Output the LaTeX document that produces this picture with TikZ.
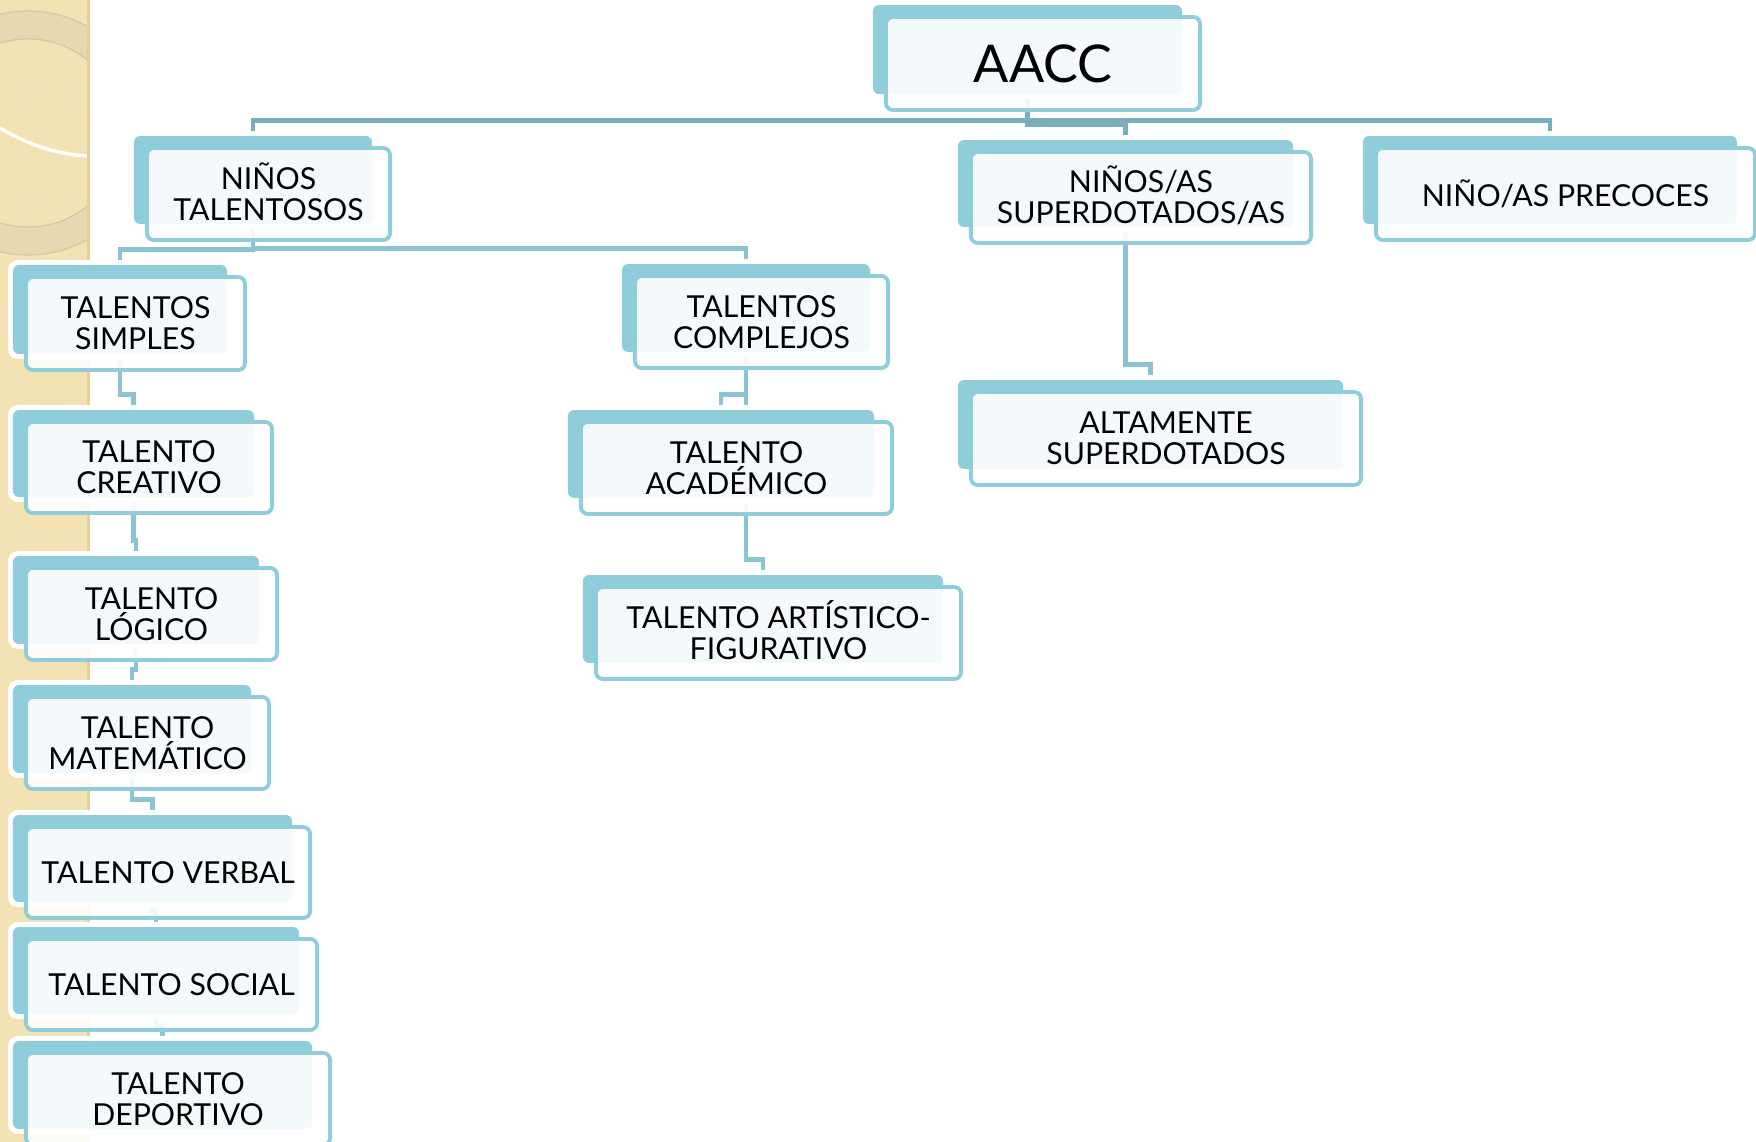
\documentclass[tikz,border=0pt]{standalone}
\usepackage{fontspec}
\setmainfont{Lato}
\usetikzlibrary{calc, patterns}
\definecolor{boxblue}{HTML}{8FCDDB}
\definecolor{linkblue}{HTML}{8AC3D1}
\definecolor{topblue}{HTML}{7AADBD}
\definecolor{beige}{HTML}{F4E2AE}
\definecolor{beigedark}{HTML}{E3CF98}
\definecolor{ringgrey}{HTML}{D9CDAE}
\pgfdeclarepatternformonly{beigetiles}{\pgfqpoint{0pt}{0pt}}{\pgfqpoint{1.9pt}{1.9pt}}{\pgfqpoint{1.9pt}{1.9pt}}{%
  \pgfpathrectangle{\pgfqpoint{0.4pt}{0.4pt}}{\pgfqpoint{1.1pt}{1.1pt}}\pgfusepath{fill}}
\tikzstyle{frontbox} = [rectangle, rounded corners=0.07cm, inner sep=0pt, align=center, text centered, draw=boxblue, line width=1.1pt, fill=white, fill opacity=0.9, text opacity=1, font=\fontsize{8.6}{8.8}\selectfont]
\tikzstyle{link} = [draw=linkblue, line width=1.4pt]
\tikzstyle{toplink} = [draw=topblue, line width=1.4pt]
\newcommand{\capline}[1]{\vphantom{T}\smash{#1}}

\pgfdeclarelayer{strip}
\pgfdeclarelayer{links}
\pgfdeclarelayer{backs}
\pgfsetlayers{strip,links,backs,main}

\begin{document}
\begin{tikzpicture}[x=0.01cm, y=-0.01cm]
\useasboundingbox (0,0) rectangle (1756,1142);
% side strip
\begin{pgfonlayer}{strip}
  \fill[beige] (0,0) rectangle (90,1142);
  \fill[pattern=beigetiles, pattern color=beigedark!60] (0,0) rectangle (90,1142);
  \begin{scope}
    \clip (0,0) rectangle (90,1142);
    \fill[ringgrey, opacity=0.45, even odd rule] (28,133) circle [radius=1.22cm] (28,133) circle [radius=0.94cm];
    \draw[ringgrey!80!black, opacity=0.4, line width=0.3pt] (28,133) circle [radius=1.22cm] (28,133) circle [radius=0.94cm];
    \draw[white, line width=1pt] (0,128) .. controls (30,146) and (60,155) .. (90,156);
  \end{scope}
  \fill[beigedark] (87,0) rectangle (90,1142);
\end{pgfonlayer}

\node (aacc) [frontbox, minimum width=3.14cm, minimum height=0.93cm, font=\fontsize{14.8}{15}\selectfont] at (1043,63.5) {AACC};
\node (ninos) [frontbox, minimum width=2.43cm, minimum height=0.92cm] at (268.5,194) {\capline{NIÑOS}\\TALENTOSOS};
\node (superd) [frontbox, minimum width=3.40cm, minimum height=0.91cm] at (1141,197.5) {\capline{NIÑOS/AS}\\SUPERDOTADOS/AS};
\node (precoces) [frontbox, minimum width=3.79cm, minimum height=0.92cm] at (1565.5,194) {NIÑO/AS PRECOCES};
\node (simples) [frontbox, minimum width=2.19cm, minimum height=0.93cm] at (135.5,323.5) {TALENTOS\\SIMPLES};
\node (complejos) [frontbox, minimum width=2.53cm, minimum height=0.92cm] at (761.5,322) {TALENTOS\\COMPLEJOS};
\node (altamente) [frontbox, minimum width=3.90cm, minimum height=0.93cm] at (1166,438.5) {ALTAMENTE\\SUPERDOTADOS};
\node (creativo) [frontbox, minimum width=2.46cm, minimum height=0.91cm] at (149,467.5) {TALENTO\\CREATIVO};
\node (academico) [frontbox, minimum width=3.11cm, minimum height=0.92cm] at (736.5,468) {TALENTO\\ACADÉMICO};
\node (logico) [frontbox, minimum width=2.51cm, minimum height=0.92cm] at (151.5,614) {TALENTO\\LÓGICO};
\node (artistico) [frontbox, minimum width=3.65cm, minimum height=0.92cm] at (778.5,633) {\capline{TALENTO ARTÍSTICO-}\\FIGURATIVO};
\node (matematico) [frontbox, minimum width=2.43cm, minimum height=0.92cm] at (147.5,743) {TALENTO\\MATEMÁTICO};
\node (verbal) [frontbox, minimum width=2.84cm, minimum height=0.91cm] at (168,872.5) {TALENTO VERBAL};
\node (social) [frontbox, minimum width=2.91cm, minimum height=0.91cm] at (171.5,984.5) {TALENTO SOCIAL};
\node (deportivo) [frontbox, minimum width=3.04cm, minimum height=0.92cm] at (178,1099) {TALENTO\\DEPORTIVO};

% back cards
\begin{pgfonlayer}{backs}
\foreach \n in {aacc, ninos, superd, precoces, simples, complejos, altamente, creativo, academico, logico, artistico, matematico, verbal, social, deportivo} {
  \fill[white, rounded corners=0.1cm] ([shift={(-16,-15)}]\n.north west) rectangle ([shift={(-15,-13)}]\n.south east);
  \fill[boxblue, rounded corners=0.06cm] ([shift={(-11,-10)}]\n.north west) rectangle ([shift={(-20,-18)}]\n.south east);
  \coordinate (\n-top) at ([shift={(-15.5,-10)}]\n.north);
  \coordinate (\n-bot) at ([shift={(-15.5,-18)}]\n.south);
}
\end{pgfonlayer}

% connectors
\begin{pgfonlayer}{links}
\foreach \a/\b in {aacc/ninos, aacc/superd, aacc/precoces}
  \draw[toplink] (\a-bot) |- ([yshift=0.155cm]\b-top) -- (\b-top);
\foreach \a/\b in {ninos/simples, ninos/complejos, simples/creativo, creativo/logico, logico/matematico, matematico/verbal, verbal/social, social/deportivo, complejos/academico, complejos/artistico, superd/altamente}
  \draw[link] (\a-bot) |- ([yshift=0.155cm]\b-top) -- (\b-top);
\end{pgfonlayer}
\end{tikzpicture}
\end{document}
